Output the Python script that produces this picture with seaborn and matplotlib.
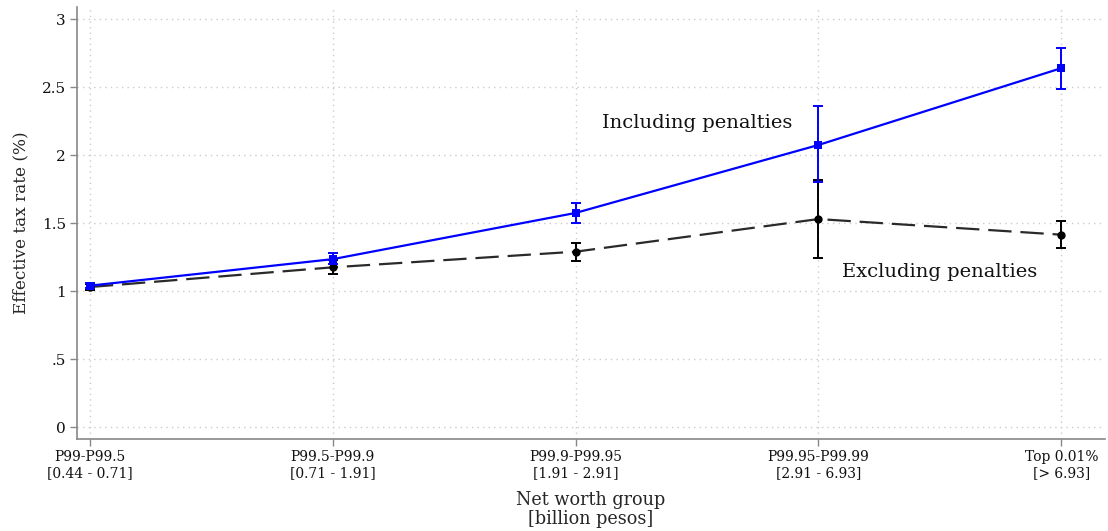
import matplotlib
matplotlib.use("Agg")
import matplotlib.pyplot as plt
import seaborn as sns
import pandas as pd
import numpy as np

groups = ["P99-P99.5\n[0.44 - 0.71]", "P99.5-P99.9\n[0.71 - 1.91]",
          "P99.9-P99.95\n[1.91 - 2.91]", "P99.95-P99.99\n[2.91 - 6.93]",
          "Top 0.01%\n[> 6.93]"]
incl = [1.04, 1.235, 1.575, 2.075, 2.64]
incl_lo = [1.02, 1.20, 1.50, 1.80, 2.49]
incl_hi = [1.06, 1.28, 1.65, 2.365, 2.79]
excl = [1.03, 1.175, 1.29, 1.53, 1.415]
excl_lo = [1.01, 1.125, 1.225, 1.245, 1.32]
excl_hi = [1.05, 1.23, 1.355, 1.82, 1.515]
yticks = [0, 0.5, 1, 1.5, 2, 2.5, 3]
yticklabels = ["0", ".5", "1", "1.5", "2", "2.5", "3"]

sns.set_style("white")
plt.rcParams['font.family'] = ['DejaVu Serif']
plt.rcParams['mathtext.fontset'] = 'dejavuserif'

fig = plt.figure(figsize=(11.08, 5.31), dpi=100)
ax = fig.add_axes([77/1108, 92/531, (1105-77)/1108, (439-7)/531])

x = np.arange(len(groups))
df = pd.DataFrame({"x": np.concatenate([x, x]),
                   "y": excl + incl,
                   "series": ["Excluding"] * 5 + ["Including"] * 5})

# Excluding penalties
ax.errorbar(x, excl, yerr=[np.array(excl) - np.array(excl_lo), np.array(excl_hi) - np.array(excl)],
            fmt='none', ecolor='black', elinewidth=1.4, capsize=3.5, capthick=1.4, zorder=3)
sns.lineplot(data=df[df.series == "Excluding"], x="x", y="y", ax=ax, color="#2a2a2a",
             linewidth=1.6, marker="o", markersize=6, markeredgewidth=0,
             markerfacecolor="black", zorder=4)
ax.lines[-1].set_dashes([10.5, 4])

# Including penalties
ax.errorbar(x, incl, yerr=[np.array(incl) - np.array(incl_lo), np.array(incl_hi) - np.array(incl)],
            fmt='none', ecolor='#0000ff', elinewidth=1.4, capsize=3.5, capthick=1.4, zorder=5)
sns.lineplot(data=df[df.series == "Including"], x="x", y="y", ax=ax, color="#0000ff",
             linewidth=1.6, marker="s", markersize=5.5, markeredgewidth=0,
             markerfacecolor="#0000ff", zorder=6)

ax.text(2.5, 2.235, "Including penalties", ha="center", va="center", fontsize=14, color="#111111")
ax.text(3.5, 1.14, "Excluding penalties", ha="center", va="center", fontsize=14, color="#111111")

ax.set_xlim(-0.053, 4.18)
ax.set_ylim(-0.088, 3.09)
ax.set_xticks(x)
ax.set_xticklabels(groups, fontsize=10, linespacing=1.15)
ax.set_yticks(yticks)
ax.set_yticklabels(yticklabels, fontsize=11)
ax.set_xlabel("Net worth group\n[billion pesos]", fontsize=12.7, linespacing=1.05, labelpad=8)
ax.set_ylabel("Effective tax rate (%)", fontsize=12.2, labelpad=9)

ax.grid(True, which="major", color="#cccccc", linestyle=(0, (1, 3)), linewidth=1)
for s in ["top", "right"]:
    ax.spines[s].set_visible(False)
for s in ["left", "bottom"]:
    ax.spines[s].set_color("#888888")
    ax.spines[s].set_linewidth(1.2)
ax.tick_params(axis="both", which="major", length=5, width=1, color="#888888",
               labelcolor="#111111", direction="out", bottom=True, left=True, pad=3)

fig.savefig("out.png", dpi=100)
